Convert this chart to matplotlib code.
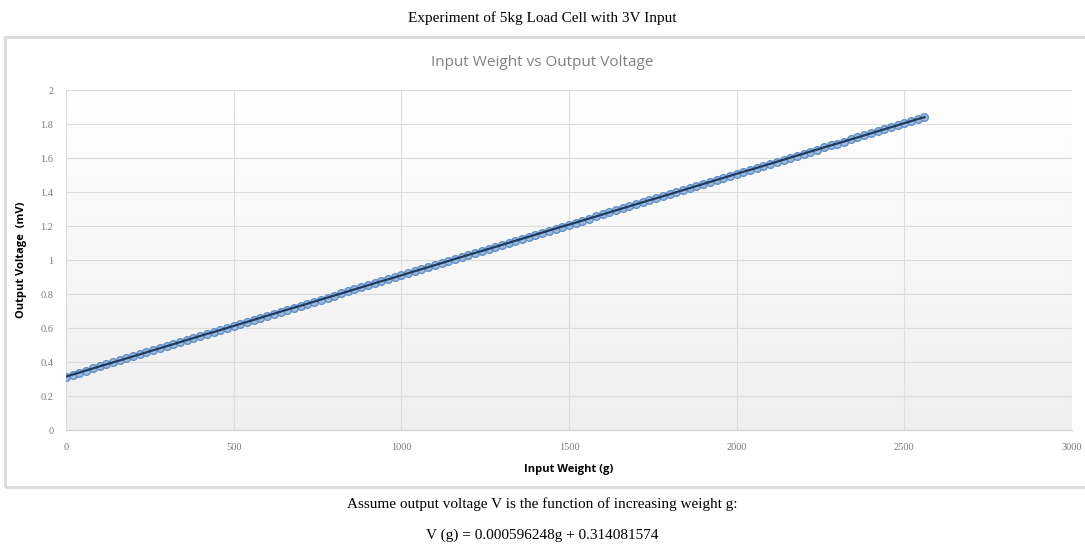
import numpy as np
import matplotlib
matplotlib.use('Agg')
import matplotlib.pyplot as plt
from matplotlib.patches import Rectangle

# ---------------------------- 数据 ---------------------------- #
weights = [
    0, 20, 40, 60, 80, 100, 120, 140, 160, 180,
    200, 220, 240, 260, 280, 300, 320, 340, 360, 380,
    400, 420, 440, 460, 480, 500, 520, 540, 560, 580,
    600, 620, 640, 660, 680, 700, 720, 740, 760, 780,
    800, 820, 840, 860, 880, 900, 920, 940, 960, 980,
    1000, 1020, 1040, 1060, 1080, 1100, 1120, 1140, 1160, 1180,
    1200, 1220, 1240, 1260, 1280, 1300, 1320, 1340, 1360, 1380,
    1400, 1420, 1440, 1460, 1480, 1500, 1520, 1540, 1560, 1580,
    1600, 1620, 1640, 1660, 1680, 1700, 1720, 1740, 1760, 1780,
    1800, 1820, 1840, 1860, 1880, 1900, 1920, 1940, 1960, 1980,
    2000, 2020, 2040, 2060, 2080, 2100, 2120, 2140, 2160, 2180,
    2200, 2220, 2240, 2260, 2280, 2300, 2320, 2340, 2360, 2380,
    2400, 2420, 2440, 2460, 2480, 2500, 2520, 2540, 2560,
]
voltages = [
    0.314, 0.326, 0.338, 0.350, 0.362, 0.374, 0.386, 0.398, 0.409, 0.421,
    0.433, 0.445, 0.457, 0.469, 0.481, 0.493, 0.505, 0.517, 0.529, 0.541,
    0.553, 0.565, 0.576, 0.588, 0.600, 0.612, 0.624, 0.636, 0.648, 0.660,
    0.672, 0.684, 0.696, 0.708, 0.720, 0.731, 0.743, 0.755, 0.767, 0.779,
    0.791, 0.803, 0.815, 0.827, 0.839, 0.851, 0.863, 0.875, 0.886, 0.898,
    0.910, 0.922, 0.934, 0.946, 0.958, 0.970, 0.982, 0.994, 1.006, 1.018,
    1.030, 1.042, 1.053, 1.065, 1.077, 1.089, 1.101, 1.113, 1.125, 1.137,
    1.149, 1.161, 1.173, 1.185, 1.197, 1.208, 1.220, 1.232, 1.244, 1.256,
    1.268, 1.280, 1.292, 1.304, 1.316, 1.328, 1.340, 1.352, 1.363, 1.375,
    1.387, 1.399, 1.411, 1.423, 1.435, 1.447, 1.459, 1.471, 1.483, 1.495,
    1.507, 1.519, 1.530, 1.542, 1.554, 1.566, 1.578, 1.590, 1.602, 1.614,
    1.626, 1.638, 1.650, 1.662, 1.674, 1.685, 1.697, 1.709, 1.721, 1.733,
    1.745, 1.757, 1.769, 1.781, 1.793, 1.805, 1.817, 1.829, 1.840,
]
x_ticks = [0, 500, 1000, 1500, 2000, 2500, 3000]
y_ticks = [0, 0.2, 0.4, 0.6, 0.8, 1, 1.2, 1.4, 1.6, 1.8, 2]
y_tick_labels = ['0', '0.2', '0.4', '0.6', '0.8', '1', '1.2', '1.4', '1.6', '1.8', '2']

serif = ['Liberation Serif', 'DejaVu Serif']
sans = ['Open Sans', 'DejaVu Sans']

# ---------------------------- 绘图 ---------------------------- #
fig = plt.figure(figsize=(10.85, 5.51), dpi=100)

# 图表外框
fig.patches.append(Rectangle((5 / 1085, 1 - 487 / 551), 1.2, (487 - 37) / 551,
                             transform=fig.transFigure, fill=False,
                             edgecolor='#d9d9d9', linewidth=2))

fig.text(0.5, 1 - 18 / 551, 'Experiment of 5kg Load Cell with 3V Input',
         ha='center', va='center', fontsize=11, family=serif)
fig.text(0.5, 1 - 62 / 551, 'Input Weight vs Output Voltage',
         ha='center', va='center', fontsize=11, color='#808080', family=sans)
fig.text(0.5, 1 - 504 / 551, 'Assume output voltage V is the function of increasing weight g:',
         ha='center', va='center', fontsize=11, family=serif)
fig.text(0.5, 1 - 535 / 551, 'V (g) = 0.000596248g + 0.314081574',
         ha='center', va='center', fontsize=11, family=serif)

ax = fig.add_axes([66 / 1085, 1 - 430 / 551, (1072 - 66) / 1085, (430 - 90) / 551])

# 背景渐变
grad = np.linspace(1.0, 0.0, 256).reshape(-1, 1)
ax.imshow(grad, extent=[0, 1, 0, 1], transform=ax.transAxes, aspect='auto',
          cmap=matplotlib.colors.LinearSegmentedColormap.from_list('g', ['#efefef', '#ffffff']),
          zorder=0)

ax.plot(weights, voltages, linestyle='none', marker='o', markersize=5.5,
        markerfacecolor='#9fbbdc', markeredgecolor='#5f8fc6', markeredgewidth=1, zorder=3)
ax.plot(weights, voltages, color='#1f3a5f', linewidth=1.6, zorder=4)

ax.set_xlim(0, 3000)
ax.set_ylim(0, 2)
ax.set_xticks(x_ticks)
ax.set_yticks(y_ticks)
ax.set_yticklabels(y_tick_labels)
ax.grid(color='#dcdcdc', linewidth=0.8, zorder=1)
ax.set_axisbelow(True)
for s in ['top', 'right', 'left']:
    ax.spines[s].set_visible(False)
ax.spines['bottom'].set_color('#d0d0d0')
ax.tick_params(length=0, labelsize=7.5, labelcolor='#7a7a7a', pad=9)
for lbl in ax.get_xticklabels() + ax.get_yticklabels():
    lbl.set_family(serif)

ax.set_xlabel('Input Weight (g)', fontsize=8, fontweight='bold', family=sans, labelpad=9)
ax.set_ylabel('Output Voltage  (mV)', fontsize=8, fontweight='bold', family=sans, labelpad=10)

plt.savefig('out.png', dpi=100)
plt.close()
